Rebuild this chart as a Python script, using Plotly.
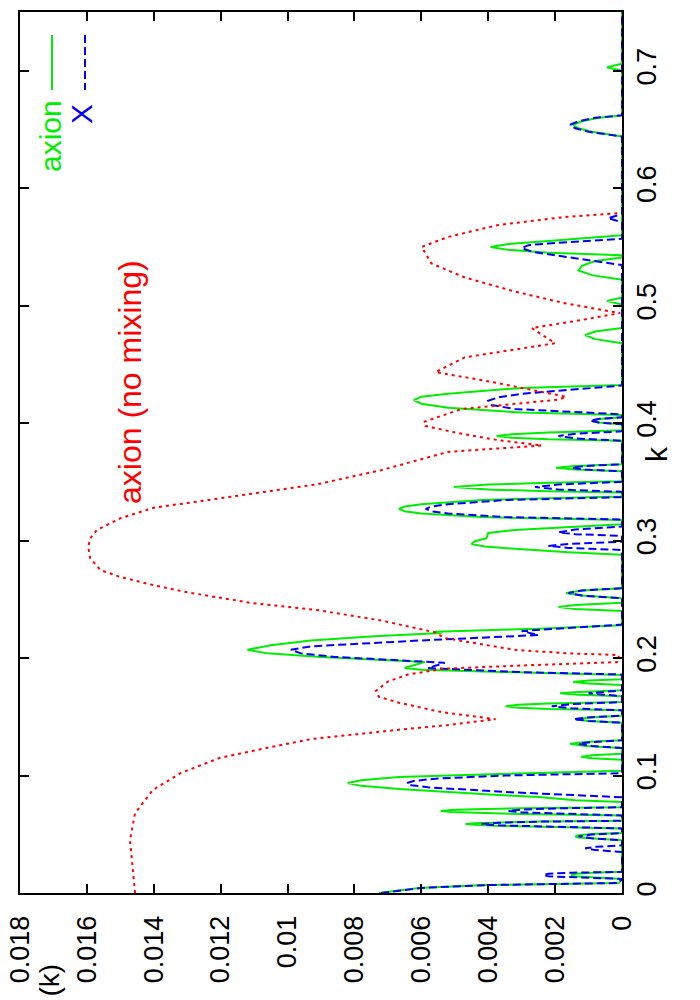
import plotly.graph_objects as go

# ---- data (k on the vertical axis, value on the horizontal axis) ----
green_k = [0.0, 0.0043, 0.0068, 0.0077, 0.0085,
           0.0120, 0.0132, 0.0143, 0.0153, 0.0163, 0.0172, 0.0180,
           0.0450, 0.0462, 0.0472, 0.0482, 0.0492, 0.0502, 0.0510,
           0.0550, 0.0562, 0.0572, 0.0580, 0.0587, 0.0594, 0.0602, 0.0609, 0.0615,
           0.0660, 0.0672, 0.0682, 0.0690, 0.0698, 0.0706, 0.0714, 0.0722, 0.0730,
           0.0775, 0.0790, 0.0817, 0.0834, 0.0860, 0.0885, 0.0912, 0.0936, 0.0960, 0.0988, 0.1013, 0.1030, 0.1040,
           0.1135, 0.1148, 0.1160, 0.1172, 0.1185,
           0.1235, 0.1252, 0.1270, 0.1285, 0.1300,
           0.1450, 0.1465, 0.1480, 0.1495, 0.1510,
           0.1555, 0.1567, 0.1578, 0.1590, 0.1602, 0.1613, 0.1625,
           0.1675, 0.1688, 0.1700, 0.1712, 0.1725,
           0.1770, 0.1783, 0.1796, 0.1808, 0.1820,
           0.1855, 0.1875, 0.1900, 0.1915, 0.1966, 0.2010, 0.2040, 0.2070, 0.2110, 0.2150, 0.2185, 0.2213, 0.2225, 0.2250, 0.2280,
           0.2400, 0.2418, 0.2435, 0.2452, 0.2470,
           0.2510, 0.2532, 0.2554, 0.2575, 0.2595,
           0.2880, 0.2900, 0.2930, 0.2950, 0.2970, 0.2995, 0.3020, 0.3065, 0.3090, 0.3115, 0.3140,
           0.3175, 0.3184, 0.3200, 0.3230, 0.3250, 0.3270, 0.3290, 0.3310, 0.3345, 0.3365, 0.3375,
           0.3410, 0.3420, 0.3435, 0.3456, 0.3477, 0.3493, 0.3505,
           0.3590, 0.3605, 0.3620, 0.3635, 0.3650,
           0.3850, 0.3862, 0.3876, 0.3890, 0.3905, 0.3920, 0.3940,
           0.3990, 0.4005, 0.4020, 0.4035, 0.4050,
           0.4070, 0.4090, 0.4130, 0.4165, 0.4197, 0.4225, 0.4250, 0.4300, 0.4324,
           0.4680, 0.4715, 0.4750, 0.4780, 0.4810,
           0.5010, 0.5040, 0.5070,
           0.5220, 0.5260, 0.5300, 0.5340, 0.5380, 0.5410,
           0.5430, 0.5450, 0.5475, 0.5500, 0.5525, 0.5550, 0.5600,
           0.6440, 0.6480, 0.6510, 0.6540, 0.6570, 0.6600, 0.6620,
           0.7000, 0.7030, 0.7060,
           0.7500]
green_v = [0.00727, 0.00607, 0.00408, 0.0025, 0.0001,
           0, 0.0009, 0.0014, 0.00152, 0.0014, 0.0009, 0,
           0, 0.0009, 0.0013, 0.0014, 0.0013, 0.0009, 0,
           0, 0.0025, 0.0038, 0.0044, 0.00468, 0.0044, 0.0036, 0.0024, 0,
           0, 0.0030, 0.0045, 0.0051, 0.00542, 0.0051, 0.0044, 0.0030, 0,
           0, 0.0014, 0.0025, 0.0037, 0.0054, 0.00667, 0.0078, 0.0082, 0.0078, 0.00667, 0.0037, 0.0015, 0,
           0, 0.0009, 0.00122, 0.0009, 0,
           0, 0.0011, 0.00155, 0.0011, 0,
           0, 0.0010, 0.0014, 0.0010, 0,
           0, 0.0022, 0.0031, 0.00348, 0.0031, 0.0022, 0,
           0, 0.0013, 0.00185, 0.0013, 0,
           0, 0.0010, 0.00146, 0.0010, 0,
           0, 0.0030, 0.0060, 0.0065, 0.0059, 0.0090, 0.0106, 0.0112, 0.0105, 0.0093, 0.0074, 0.0054, 0.0056, 0.0025, 0,
           0, 0.0014, 0.0019, 0.0014, 0,
           0, 0.0012, 0.00167, 0.0012, 0,
           0, 0.0016, 0.0032, 0.0041, 0.0045, 0.0044, 0.00405, 0.0040, 0.0032, 0.0016, 0,
           0, 0.0016, 0.0042, 0.0060, 0.0065, 0.00667, 0.0065, 0.0060, 0.0042, 0.0016, 0,
           0, 0.0022, 0.0040, 0.00503, 0.0040, 0.0022, 0,
           0, 0.0014, 0.00197, 0.0014, 0,
           0, 0.0022, 0.0033, 0.00375, 0.0033, 0.0022, 0,
           0, 0.0007, 0.0009, 0.0007, 0,
           0, 0.0030, 0.0052, 0.0060, 0.00622, 0.0060, 0.0052, 0.0030, 0,
           0, 0.0008, 0.0011, 0.0008, 0,
           0, 0.00045, 0,
           0, 0.0009, 0.0013, 0.0012, 0.0008, 0,
           0, 0.0022, 0.0034, 0.00393, 0.0034, 0.0022, 0,
           0, 0.0009, 0.0013, 0.00146, 0.0012, 0.0007, 0,
           0, 0.00045, 0,
           0]

blue_k = [0.0, 0.0043, 0.0068, 0.0077, 0.0085,
          0.0120, 0.0131, 0.0142, 0.0153, 0.0164, 0.0173, 0.0180,
          0.0350, 0.0365, 0.0380, 0.0393, 0.0405,
          0.0450, 0.0466, 0.0482, 0.0497, 0.0510,
          0.0550, 0.0564, 0.0576, 0.0587, 0.0598, 0.0608, 0.0615,
          0.0660, 0.0674, 0.0686, 0.0698, 0.0710, 0.0721, 0.0730,
          0.0815, 0.0834, 0.0860, 0.0900, 0.0918, 0.0936, 0.0955, 0.0975, 0.1000, 0.1020,
          0.1235, 0.1252, 0.1270, 0.1285, 0.1300,
          0.1450, 0.1465, 0.1480, 0.1495, 0.1510,
          0.1555, 0.1572, 0.1590, 0.1608, 0.1625,
          0.1675, 0.1700, 0.1725,
          0.1860, 0.1880, 0.1915, 0.1960, 0.2010, 0.2040, 0.2070, 0.2100, 0.2150, 0.2196, 0.2230, 0.2260, 0.2285,
          0.2510, 0.2532, 0.2554, 0.2575, 0.2595,
          0.2920, 0.2938, 0.2955, 0.2972, 0.2990,
          0.3040, 0.3055, 0.3070, 0.3095, 0.3120,
          0.3180, 0.3200, 0.3230, 0.3250, 0.3270, 0.3290, 0.3310, 0.3345, 0.3370,
          0.3415, 0.3435, 0.3456, 0.3478, 0.3500,
          0.3590, 0.3605, 0.3620, 0.3635, 0.3650,
          0.3850, 0.3870, 0.3890, 0.3910, 0.3930,
          0.3990, 0.4005, 0.4020, 0.4035, 0.4050,
          0.4075, 0.4120, 0.4155, 0.4190, 0.4220, 0.4250, 0.4320,
          0.5346, 0.5420, 0.5460, 0.5490, 0.5515, 0.5530, 0.5570,
          0.5710, 0.5745, 0.5780,
          0.6440, 0.6480, 0.6510, 0.6540, 0.6570, 0.6600, 0.6620,
          0.7500]
blue_v = [0.0072, 0.0060, 0.0040, 0.0024, 0.0001,
          0, 0.0015, 0.0022, 0.00235, 0.0022, 0.0015, 0,
          0, 0.0008, 0.0011, 0.0008, 0,
          0, 0.0009, 0.0013, 0.0009, 0,
          0, 0.0024, 0.0037, 0.0042, 0.0037, 0.0024, 0,
          0, 0.0019, 0.0030, 0.0034, 0.0030, 0.0019, 0,
          0, 0.0014, 0.0035, 0.0058, 0.0063, 0.00643, 0.0062, 0.0055, 0.0035, 0,
          0, 0.0009, 0.0013, 0.0009, 0,
          0, 0.0010, 0.00145, 0.0010, 0,
          0, 0.0015, 0.0021, 0.0015, 0,
          0, 0.0010, 0,
          0, 0.0030, 0.0058, 0.0053, 0.0086, 0.0096, 0.0099, 0.0093, 0.0060, 0.0025, 0.0030, 0.0014, 0,
          0, 0.0012, 0.0016, 0.0012, 0,
          0, 0.0016, 0.0022, 0.0016, 0,
          0, 0.0014, 0.0019, 0.0014, 0,
          0, 0.0035, 0.0052, 0.0057, 0.00587, 0.0057, 0.0052, 0.0035, 0,
          0, 0.0019, 0.0026, 0.0019, 0,
          0, 0.0011, 0.0015, 0.0011, 0,
          0, 0.0014, 0.0019, 0.0014, 0,
          0, 0.0007, 0.00095, 0.0007, 0,
          0, 0.0032, 0.0039, 0.0040, 0.0037, 0.0030, 0,
          0, 0.0018, 0.0027, 0.0030, 0.0028, 0.0022, 0,
          0, 0.00042, 0,
          0, 0.0010, 0.0014, 0.00155, 0.0013, 0.0008, 0,
          0]

red_k = [0.000, 0.020, 0.045, 0.068, 0.0877, 0.102, 0.115, 0.124, 0.131, 0.139, 0.143, 0.148,
         0.154, 0.162, 0.167, 0.172, 0.180, 0.186, 0.191, 0.194, 0.1966, 0.2026, 0.204, 0.207,
         0.217, 0.222, 0.232, 0.241, 0.247, 0.256, 0.262, 0.269, 0.275, 0.285, 0.2945, 0.302,
         0.309, 0.319, 0.328, 0.332, 0.3405, 0.348, 0.360, 0.3755, 0.381, 0.3855, 0.3915, 0.3975,
         0.401, 0.412, 0.420, 0.4224, 0.434, 0.4435, 0.456, 0.468, 0.481, 0.4878, 0.4937,
         0.502, 0.512, 0.524, 0.536, 0.550, 0.5585, 0.5687, 0.5755, 0.5789]
red_v = [0.01456, 0.01462, 0.01471, 0.01456, 0.01403, 0.0132, 0.01203, 0.01054, 0.0093, 0.00667, 0.0052, 0.00378,
         0.0054, 0.00667, 0.00727, 0.00736, 0.0070, 0.0064, 0.0053, 0.0027, 0.0001, 0.0001, 0.0016, 0.0032,
         0.0053, 0.0056, 0.0072, 0.00914, 0.0111, 0.0130, 0.0140, 0.0150, 0.0156, 0.0159, 0.01596, 0.0159,
         0.0157, 0.0150, 0.0140, 0.0130, 0.0110, 0.0091, 0.0072, 0.0052, 0.0024, 0.0037, 0.0049, 0.00587,
         0.00593, 0.0048, 0.0019, 0.00167, 0.0037, 0.00557, 0.0047, 0.0020, 0.0027, 0.0012, 0.00006,
         0.0017, 0.0032, 0.0047, 0.0057, 0.00599, 0.0052, 0.0037, 0.0017, 0.00006]

value_ticks = [0, 0.002, 0.004, 0.006, 0.008, 0.01, 0.012, 0.014, 0.016, 0.018]
value_ticktext = ["0", "0.002", "0.004", "0.006", "0.008", "0.01", "0.012", "0.014", "0.016", "0.018"]
k_ticks = [0, 0.1, 0.2, 0.3, 0.4, 0.5, 0.6, 0.7]
k_ticktext = ["0", "0.1", "0.2", "0.3", "0.4", "0.5", "0.6", "0.7"]

GREEN = "#00ee00"
BLUE = "#0000ff"
RED = "#ff0000"
FONT = "Liberation Sans, Arial, Helvetica, sans-serif"

W, H = 700, 1000
L, R, T, B = 20, 78, 12, 107
PW, PH = W - L - R, H - T - B


def px(x):
    return (x - L) / PW


def py(y):
    return (H - B - y) / PH


fig = go.Figure()
fig.add_trace(go.Scatter(x=green_v, y=green_k, mode="lines", name="axion",
                         line=dict(color=GREEN, width=2)))
fig.add_trace(go.Scatter(x=blue_v, y=blue_k, mode="lines", name="X",
                         line=dict(color=BLUE, width=2, dash="8px,4px")))
fig.add_trace(go.Scatter(x=red_v, y=red_k, mode="lines", name="axion (no mixing)",
                         line=dict(color=RED, width=2, dash="3px,4px")))

axis_common = dict(showgrid=False, zeroline=False, showline=True, linewidth=2, linecolor="black",
                   mirror="ticks", ticks="inside", ticklen=9, tickwidth=2, tickcolor="black",
                   tickangle=-90, automargin=False,
                   tickfont=dict(family=FONT, size=27, color="black"))

fig.update_layout(
    width=W, height=H,
    margin=dict(l=L, r=R, t=T, b=B, pad=0, autoexpand=False),
    paper_bgcolor="white", plot_bgcolor="white",
    showlegend=False,
    xaxis=dict(range=[0.018, 0], tickvals=value_ticks, ticktext=value_ticktext,
               ticklabelstandoff=10, **axis_common),
    yaxis=dict(range=[0, 0.75], side="right", tickvals=k_ticks, ticktext=k_ticktext,
               ticklabelstandoff=0, **axis_common),
)

annotations = [
    dict(text="axion (no mixing)", x=px(130), y=py(382), font=dict(family=FONT, size=32, color=RED),
         xanchor="center", yanchor="middle"),
    dict(text="axion", x=px(50), y=py(98), font=dict(family=FONT, size=30, color=GREEN),
         xanchor="center", yanchor="top"),
    dict(text="X", x=px(81), y=py(102), font=dict(family=FONT, size=30, color=BLUE),
         xanchor="center", yanchor="top"),
    dict(text="k", x=px(656), y=py(454), font=dict(family=FONT, size=30, color="black"),
         xanchor="center", yanchor="middle"),
    dict(text="(k)", x=px(49), y=py(962), font=dict(family=FONT, size=28, color="black"),
         xanchor="center", yanchor="top"),
]
for a in annotations:
    fig.add_annotation(xref="paper", yref="paper", showarrow=False, textangle=-90, **a)

fig.add_shape(type="line", xref="paper", yref="paper", x0=px(52), x1=px(52), y0=py(35), y1=py(90),
              line=dict(color=GREEN, width=2))
fig.add_shape(type="line", xref="paper", yref="paper", x0=px(85), x1=px(85), y0=py(35), y1=py(90),
              line=dict(color=BLUE, width=2, dash="8px,4px"))

fig.write_html("out.html", config={"displayModeBar": False},
               post_script="document.body.style.margin='0px';")
